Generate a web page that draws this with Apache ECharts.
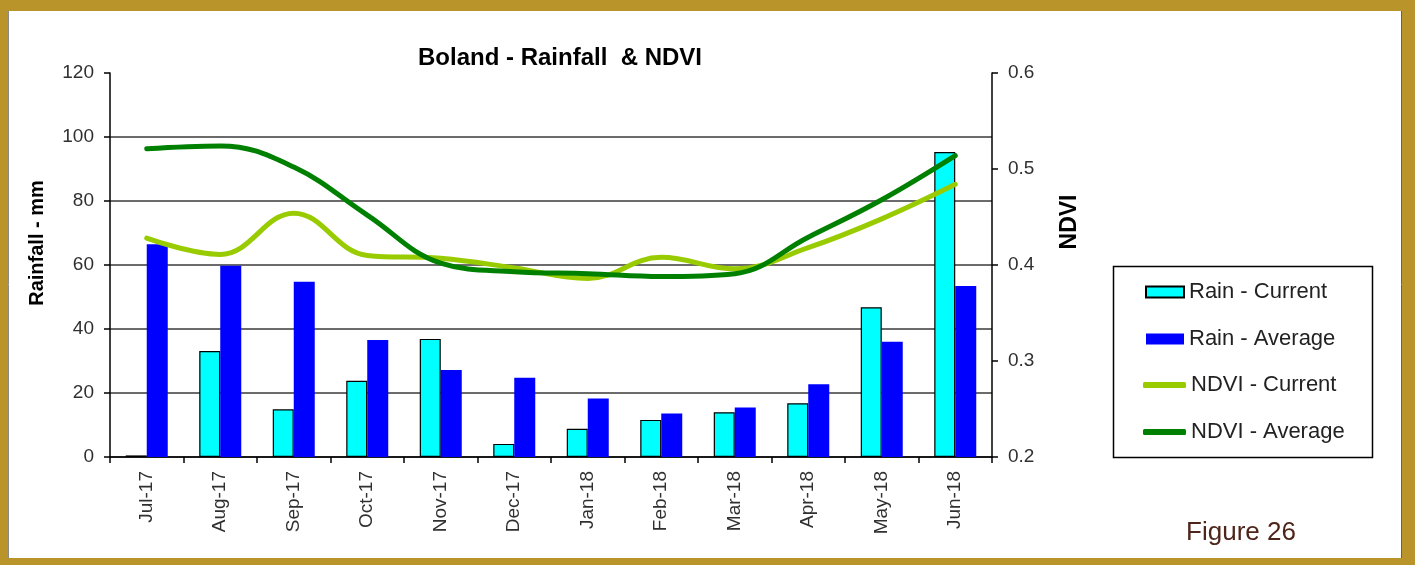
<!DOCTYPE html>
<html>
<head>
<meta charset="utf-8">
<script src="https://cdn.jsdelivr.net/npm/echarts@6/dist/echarts.min.js"></script>
<style>
html,body{margin:0;padding:0;background:#B8942A;}
#chart{width:1415px;height:565px;}
</style>
</head>
<body>
<div id="chart"></div>
<script>
const categories = ['Jul-17','Aug-17','Sep-17','Oct-17','Nov-17','Dec-17','Jan-18','Feb-18','Mar-18','Apr-18','May-18','Jun-18'];
const rainCurrent = [0.5, 33.1, 14.9, 23.8, 36.9, 4.1, 8.8, 11.6, 14.0, 16.8, 46.8, 95.3];
const rainAverage = [66.5, 59.8, 54.8, 36.6, 27.2, 24.8, 18.3, 13.6, 15.5, 22.7, 36.0, 53.4];
const ndviCurrent = [0.428, 0.411, 0.454, 0.410, 0.407, 0.397, 0.386, 0.408, 0.396, 0.418, 0.448, 0.484];
const ndviAverage = [0.521, 0.524, 0.502, 0.452, 0.402, 0.393, 0.391, 0.388, 0.391, 0.429, 0.468, 0.514];
const rainTicks = {min: 0, max: 120, interval: 20};
const ndviTicks = {min: 0.2, max: 0.6, interval: 0.1};

const FONT = "'Liberation Sans', Arial, sans-serif";
const chart = echarts.init(document.getElementById('chart'), null, {renderer: 'canvas'});

const option = {
  backgroundColor: '#B8942A',
  animation: false,
  textStyle: {fontFamily: FONT},
  title: {
    text: 'Boland - Rainfall  & NDVI',
    left: 418, top: 46, padding: 0,
    textStyle: {fontFamily: FONT, fontSize: 24, fontWeight: 'bold', color: '#000'}
  },
  grid: [
    {left: 110, right: 423, top: 73, bottom: 108},
    {left: 110, right: 423, top: 137, bottom: 108}
  ],
  legend: [
    {
      orient: 'vertical', left: 1145, top: 281, padding: 0,
      itemWidth: 38, itemHeight: 11, itemGap: 25,
      data: [{name: 'Rain - Current', icon: 'rect'}, {name: 'Rain - Average', icon: 'rect'}],
      textStyle: {fontFamily: FONT, fontSize: 22, lineHeight: 22, color: '#222'},
      selectedMode: false
    },
    {
      orient: 'vertical', left: 1143, top: 374, padding: 0,
      itemWidth: 43, itemHeight: 6, itemGap: 25,
      data: [{name: 'NDVI - Current', icon: 'roundRect'}, {name: 'NDVI - Average', icon: 'roundRect'}],
      textStyle: {fontFamily: FONT, fontSize: 22, lineHeight: 22, color: '#222'},
      selectedMode: false
    }
  ],
  xAxis: [
    {
      type: 'category', gridIndex: 0, data: categories, boundaryGap: true,
      axisLine: {lineStyle: {color: '#000', width: 1.5}},
      axisTick: {show: true, length: 6, lineStyle: {color: '#000', width: 1.5}},
      axisLabel: {rotate: 90, margin: 14, fontFamily: FONT, fontSize: 19, color: '#303030'}
    },
    {type: 'category', gridIndex: 1, data: categories, show: false}
  ],
  yAxis: [
    {
      type: 'value', gridIndex: 0, min: rainTicks.min, max: rainTicks.max, interval: rainTicks.interval,
      axisLine: {show: true, lineStyle: {color: '#000', width: 1.5}},
      axisTick: {show: true, length: 6, lineStyle: {color: '#000', width: 1.5}},
      axisLabel: {margin: 16, fontFamily: FONT, fontSize: 19, color: '#303030'},
      splitLine: {show: false}
    },
    {
      type: 'value', gridIndex: 0, position: 'right', min: ndviTicks.min, max: ndviTicks.max, interval: ndviTicks.interval,
      axisLine: {show: true, lineStyle: {color: '#000', width: 1.5}},
      axisTick: {show: true, length: 6, lineStyle: {color: '#000', width: 1.5}},
      axisLabel: {margin: 16, fontFamily: FONT, fontSize: 19, color: '#303030', formatter: v => v.toFixed(1)},
      splitLine: {show: false}
    },
    {
      type: 'value', gridIndex: 1, min: 0, max: 100, interval: 20,
      axisLine: {show: false}, axisTick: {show: false}, axisLabel: {show: false},
      splitLine: {show: true, lineStyle: {color: '#3a3a3a', width: 1.5}}
    }
  ],
  series: [
    {
      name: 'Rain - Current', type: 'bar', xAxisIndex: 0, yAxisIndex: 0, data: rainCurrent,
      barWidth: 21, barGap: '0%', z: 3,
      itemStyle: {color: '#00FFFF', borderColor: '#000', borderWidth: 1.2}
    },
    {
      name: 'Rain - Average', type: 'bar', xAxisIndex: 0, yAxisIndex: 0, data: rainAverage,
      barWidth: 21, barGap: '0%', z: 3,
      itemStyle: {color: '#0000FF'}
    },
    {
      name: 'NDVI - Current', type: 'line', xAxisIndex: 0, yAxisIndex: 1, data: ndviCurrent,
      smooth: 0.4, symbol: 'none', z: 4,
      itemStyle: {color: '#99CC00'},
      lineStyle: {color: '#99CC00', width: 5, cap: 'round'}
    },
    {
      name: 'NDVI - Average', type: 'line', xAxisIndex: 0, yAxisIndex: 1, data: ndviAverage,
      smooth: 0.4, symbol: 'none', z: 5,
      itemStyle: {color: '#008000'},
      lineStyle: {color: '#008000', width: 5, cap: 'round'}
    }
  ],
  graphic: [
    {type: 'rect', z: -10, silent: true, shape: {x: 8, y: 11, width: 1394, height: 547}, style: {fill: '#fff'}},
    {type: 'line', z: -9, silent: true, shape: {x1: 8.5, y1: 11, x2: 8.5, y2: 558}, style: {stroke: '#8a8a8a', lineWidth: 1}},
    {type: 'line', z: -9, silent: true, shape: {x1: 1401.5, y1: 11, x2: 1401.5, y2: 558}, style: {stroke: '#606060', lineWidth: 1}},
    {type: 'rect', z: -5, silent: true, shape: {x: 1113.5, y: 266.5, width: 259, height: 191}, style: {fill: '#fff', stroke: '#000', lineWidth: 1.5}},
    {type: 'text', silent: true, x: 37, y: 243, rotation: Math.PI / 2,
      style: {text: 'Rainfall - mm', font: "bold 20px 'Liberation Sans', Arial, sans-serif", fill: '#000', textAlign: 'center', textVerticalAlign: 'middle'}},
    {type: 'text', silent: true, x: 1070, y: 222, rotation: Math.PI / 2,
      style: {text: 'NDVI', font: "bold 23px 'Liberation Sans', Arial, sans-serif", fill: '#000', textAlign: 'center', textVerticalAlign: 'middle'}},
    {type: 'text', silent: true, x: 1241, y: 533,
      style: {text: 'Figure 26', font: "26px 'Liberation Sans', Arial, sans-serif", fill: '#4E251A', textAlign: 'center', textVerticalAlign: 'middle'}}
  ]
};
chart.setOption(option);
</script>
</body>
</html>
